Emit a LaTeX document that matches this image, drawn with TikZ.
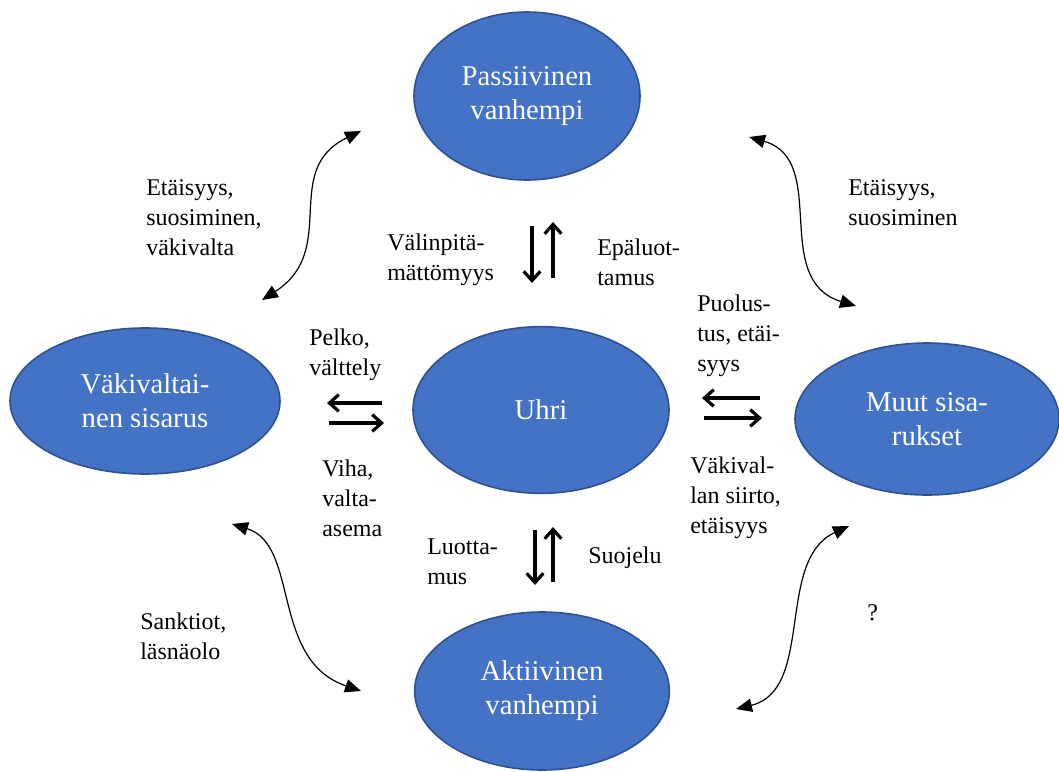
\documentclass[tikz,border=0pt]{standalone}
\usepackage{fontspec}
\setmainfont{Liberation Serif}
\usetikzlibrary{shapes.geometric,arrows.meta}
\definecolor{bubble}{HTML}{4472C4}
\definecolor{bubbleline}{HTML}{2F528F}
\tikzset{
  party/.style={ellipse,draw=bubbleline,line width=1.2pt,fill=bubble,
    text=white,align=center,inner sep=0pt,font=\fontsize{21.5}{25.5}\selectfont},
  lbl/.style={anchor=west,align=left,inner sep=0pt,font=\fontsize{18}{22.5}\selectfont},
  swing/.style={{Triangle[length=12pt,width=10pt]}-{Triangle[length=12pt,width=10pt]},line width=0.9pt},
  flow/.style={-{Straight Barb[length=7pt,width=12.5pt]},line width=2.4pt}
}

\begin{document}
\begin{tikzpicture}[x=0.75pt,y=-0.75pt]

\useasboundingbox (0,0) rectangle (1059,771);

% the five parties
\node[party,minimum width=169.5pt,minimum height=126pt] (pas) at (527,96) {Passiivinen\\vanhempi};
\node[party,minimum width=202.5pt,minimum height=109.5pt] (vak) at (145,401) {Väkivaltai-\\nen sisarus};
\node[party,minimum width=192pt,minimum height=125pt] (uhri) at (541,410) {Uhri};
\node[party,minimum width=198pt,minimum height=114pt] (muut) at (927,419) {Muut sisa-\\rukset};
\node[party,minimum width=191pt,minimum height=118.5pt] (akt) at (542,691) {Aktiivinen\\vanhempi};

% ends of the curved arrows
\coordinate (tl1) at (262,300);
\coordinate (tl2) at (361,131);
\coordinate (tr1) at (749,137);
\coordinate (tr2) at (856,306);
\coordinate (bl1) at (232,524);
\coordinate (bl2) at (361,691);
\coordinate (br1) at (849,526);
\coordinate (br2) at (736,709);

\draw[swing] (tl1) .. controls (340,250) and (280,170) .. (tl2);
\draw[swing] (tr1) .. controls (830,160) and (770,280) .. (tr2);
\draw[swing] (bl1) .. controls (300,545) and (270,660) .. (bl2);
\draw[swing] (br1) .. controls (775,560) and (815,690) .. (br2);

% ends of the straight arrows
\coordinate (up1) at (532,226);
\coordinate (up2) at (532,283);
\coordinate (up3) at (553,278);
\coordinate (up4) at (553,222);
\coordinate (dn1) at (535,530);
\coordinate (dn2) at (535,585);
\coordinate (dn3) at (553,582);
\coordinate (dn4) at (553,527);
\coordinate (lf1) at (382,403);
\coordinate (lf2) at (327,403);
\coordinate (lf3) at (329,423);
\coordinate (lf4) at (384,423);
\coordinate (rt1) at (760,398);
\coordinate (rt2) at (702,398);
\coordinate (rt3) at (704,418);
\coordinate (rt4) at (762,418);

\draw[flow] (up1) -- (up2);
\draw[flow] (up3) -- (up4);
\draw[flow] (dn1) -- (dn2);
\draw[flow] (dn3) -- (dn4);
\draw[flow] (lf1) -- (lf2);
\draw[flow] (lf3) -- (lf4);
\draw[flow] (rt1) -- (rt2);
\draw[flow] (rt3) -- (rt4);

% labels
\node[lbl] (l1) at (146,218) {Etäisyys,\\suosiminen,\\väkivalta};
\node[lbl] (l2) at (848,203) {Etäisyys,\\suosiminen};
\node[lbl] (l3) at (387,260) {Välinpitä-\\mättömyys};
\node[lbl] (l4) at (597,262) {Epäluot-\\tamus};
\node[lbl] (l5) at (309,355) {Pelko,\\välttely};
\node[lbl] (l6) at (322,498) {Viha,\\valta-\\asema};
\node[lbl] (l7) at (427,562) {Luotta-\\mus};
\node[lbl] (l8) at (588,558) {Suojelu};
\node[lbl] (l9) at (697,336) {Puolus-\\tus, etäi-\\syys};
\node[lbl] (l10) at (690,498) {Väkival-\\lan siirto,\\etäisyys};
\node[lbl] (l11) at (140,636) {Sanktiot,\\läsnäolo};
\node[lbl] (l12) at (867,613) {?};
\end{tikzpicture}
\end{document}
